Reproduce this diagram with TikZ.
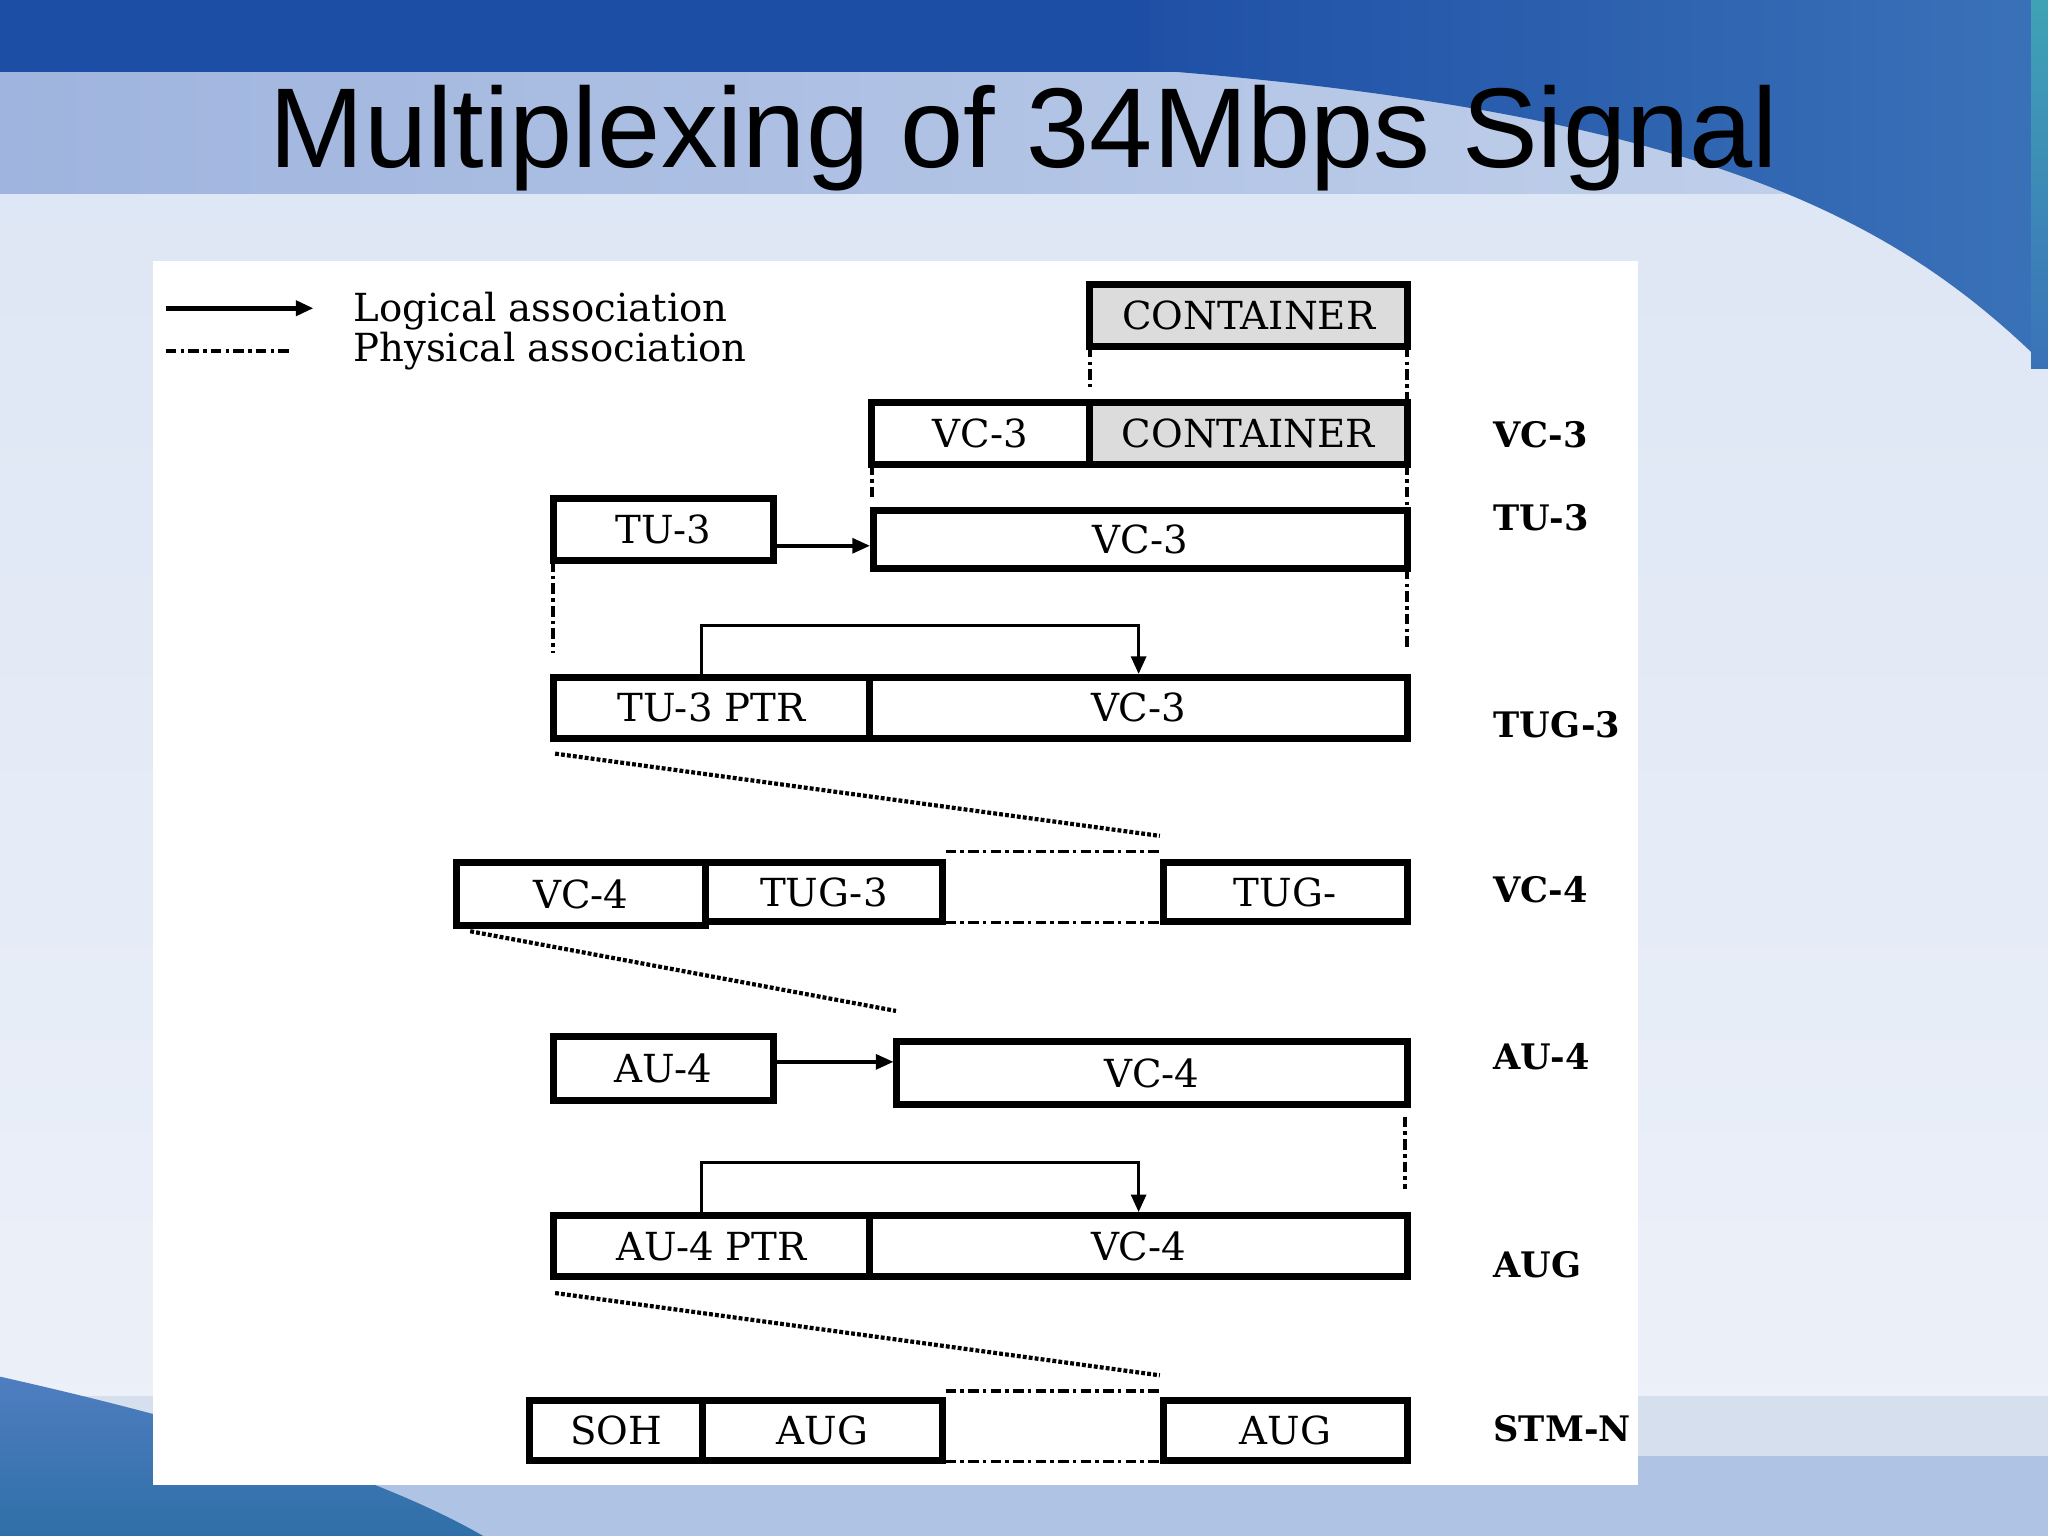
\documentclass[tikz,border=0pt]{standalone}
\usepackage{fontspec}
\newfontfamily\dser{DejaVu Serif}
\newfontfamily\titlefont{Liberation Sans}
\usetikzlibrary{arrows.meta}
\definecolor{topdark}{HTML}{1C4EA6}
\definecolor{bandA}{HTML}{9FB4DE}
\definecolor{bandB}{HTML}{C4D3EC}
\definecolor{lowA}{HTML}{DCE5F4}
\definecolor{lowB}{HTML}{EDF1F9}
\definecolor{swA}{HTML}{1F50A6}
\definecolor{swB}{HTML}{3A72B8}
\definecolor{tealedge}{HTML}{3FA3B5}
\definecolor{botband}{HTML}{AFC3E4}
\definecolor{botright}{HTML}{D6DFEE}
\definecolor{swlA}{HTML}{4F7EC0}
\definecolor{swlB}{HTML}{2F6FA8}
\definecolor{boxgrey}{HTML}{DCDCDC}
\begin{document}
\begin{tikzpicture}[x=0.013061cm, y=-0.013061cm,
  cell/.style={draw, line width=2pt, inner sep=0pt, outer sep=0pt, font=\dser\fontsize{11}{13}\selectfont},
  wh/.style 2 args={minimum width=#1*0.013061cm, minimum height=#2*0.013061cm},
  grey/.style={fill=boxgrey},
  tag/.style={anchor=west, inner sep=0pt, font=\dser\bfseries\fontsize{10}{12}\selectfont},
  legtext/.style={anchor=base west, inner sep=0pt, font=\dser\fontsize{11}{13}\selectfont},
  logic/.style={line width=1pt, -{Triangle[length=5pt,width=4.2pt]}, shorten >=0.9pt},
  phys/.style={line width=1.1pt, dash pattern=on 3pt off 1.2pt on 1pt off 1.2pt},
  dots/.style={line width=1.2pt, dash pattern=on 1.1pt off 0.6pt}
]
\useasboundingbox (0,0) rectangle (1568,1176);
% ---------- background ----------
\shade[top color=lowA, bottom color=lowB] (0,0) rectangle (1568,1176);
\shade[left color=bandA, right color=bandB] (0,55) rectangle (1568,148);
\fill[topdark] (0,0) rectangle (1568,55);
\shade[left color=swA, right color=swB] (880,0) -- (1568,0) -- (1568,282)
  .. controls (1460,175) and (1320,90) .. (900,55) -- (880,55) -- cycle;
\shade[top color=tealedge, bottom color=swB] (1555,0) rectangle (1568,282);
\fill[botright] (0,1069) rectangle (1568,1115);
\fill[botband] (0,1115) rectangle (1568,1176);
\shade[top color=swlA, bottom color=swlB] (0,1054) .. controls (160,1090) and (290,1130) .. (370,1176) -- (0,1176) -- cycle;
% ---------- panel ----------
\fill[white] (117,200) rectangle (1254,1137);
% ---------- title ----------
\node[anchor=base, inner sep=0pt, font=\titlefont\fontsize{32.3}{38}\selectfont] (title) at (784,128) {Multiplexing of 34Mbps Signal};
% ---------- legend ----------
\coordinate (la) at (127,236);
\coordinate (lb) at (240,236);
\coordinate (lc) at (127,269);
\coordinate (ld) at (221,269);
\draw[logic, line width=1.3pt, shorten >=0pt] (la) -- (lb);
\draw[phys] (lc) -- (ld);
\node[legtext] (lt1) at (270,246) {Logical association};
\node[legtext] (lt2) at (270,277) {Physical association};
% ---------- cells ----------
\node[cell, grey, wh={243}{48}] (cont) at (956,241.5) {CONTAINER};
\node[cell, wh={166.5}{47}] (vcA) at (750.75,332) {VC-3};
\node[cell, grey, wh={243.5}{47}] (vcB) at (955.75,332) {CONTAINER};
\node[cell, wh={169}{48}] (tu3) at (508,405.5) {TU-3};
\node[cell, wh={409}{45}] (vc3b) at (873,413) {VC-3};
\node[cell, wh={242.5}{47}] (tup) at (544.75,542) {TU-3 PTR};
\node[cell, wh={411.5}{47}] (tuv) at (871.75,542) {VC-3};
\node[cell, wh={190.5}{48}] (vc4) at (444.75,684.5) {VC-4};
\node[cell, wh={181.5}{45}] (tug3) at (630.75,683) {TUG-3};
\node[cell, wh={187}{45}] (tugn) at (984,683) {TUG-};
\node[cell, wh={169}{49}] (au4) at (508,818) {AU-4};
\node[cell, wh={391}{48}] (vc4b) at (882,821.5) {VC-4};
\node[cell, wh={242.5}{47}] (aup) at (544.75,954) {AU-4 PTR};
\node[cell, wh={411.5}{47}] (auv) at (871.75,954) {VC-4};
\node[cell, wh={132.5}{46}] (soh) at (471.75,1095.5) {SOH};
\node[cell, wh={183.5}{46}] (aug1) at (629.75,1095.5) {AUG};
\node[cell, wh={187}{46}] (aug2) at (984,1095.5) {AUG};
% ---------- right-hand tags ----------
\node[tag] (tVC3) at (1143,333) {VC-3};
\node[tag] (tTU3) at (1143,396) {TU-3};
\node[tag] (tTUG3) at (1143,555) {TUG-3};
\node[tag] (tVC4) at (1143,681) {VC-4};
\node[tag] (tAU4) at (1143,809) {AU-4};
\node[tag] (tAUG) at (1143,968) {AUG};
\node[tag] (tSTM) at (1143,1094) {STM-N};
% ---------- logical arrows ----------
\coordinate (a1) at ([yshift=-4.6pt]tu3.east);
\draw[logic] (a1) -- (a1 -| vc3b.west);
\coordinate (a2) at ([yshift=1.86pt]au4.east);
\draw[logic] (a2) -- (a2 -| vc4b.west);
\draw[logic] ([xshift=-2.9pt]tup.north) -- ++(0,-39.5) -| (tuv.north);
\draw[logic] ([xshift=-2.9pt]aup.north) -- ++(0,-40.5) -| (auv.north);
% ---------- physical associations ----------
\coordinate (y296) at (0,296);
\coordinate (y384) at (0,384);
\coordinate (y500) at (0,500);
\coordinate (y498) at (0,498);
\draw[phys] (cont.south west) -- (cont.south west |- y296);
\draw[phys] (cont.south east) -- (vcB.north east);
\draw[phys] (vcA.south west) -- (vcA.south west |- y384);
\draw[phys] (vcB.south east) -- (vcB.south east |- vc3b.north);
\draw[phys] (tu3.south west) -- (tu3.south west |- y500);
\draw[phys] (vc3b.south east) -- (vc3b.south east |- y498);
\coordinate (v5a) at (1076,855);
\coordinate (v5b) at (1076,910);
\draw[phys] (v5a) -- (v5b);
% diagonals
\coordinate (d1a) at (425,577);
\coordinate (d1b) at (888,640);
\draw[dots] (d1a) -- (d1b);
\coordinate (d2a) at (360,713);
\coordinate (d2b) at (686,774);
\draw[dots] (d2a) -- (d2b);
\coordinate (d3a) at (425,990);
\coordinate (d3b) at (888,1053);
\draw[dots] (d3a) -- (d3b);
% gaps between groups
\coordinate (g1a) at (724,652); \coordinate (g1b) at (888,652);
\coordinate (g2a) at (724,706); \coordinate (g2b) at (888,706);
\draw[phys, line width=0.9pt] (g1a) -- (g1b);
\draw[phys, line width=0.9pt] (g2a) -- (g2b);
\coordinate (g3a) at (724,1065); \coordinate (g3b) at (888,1065);
\coordinate (g4a) at (724,1119); \coordinate (g4b) at (888,1119);
\draw[phys, line width=0.9pt] (g3a) -- (g3b);
\draw[phys, line width=0.9pt] (g4a) -- (g4b);
\end{tikzpicture}
\end{document}
